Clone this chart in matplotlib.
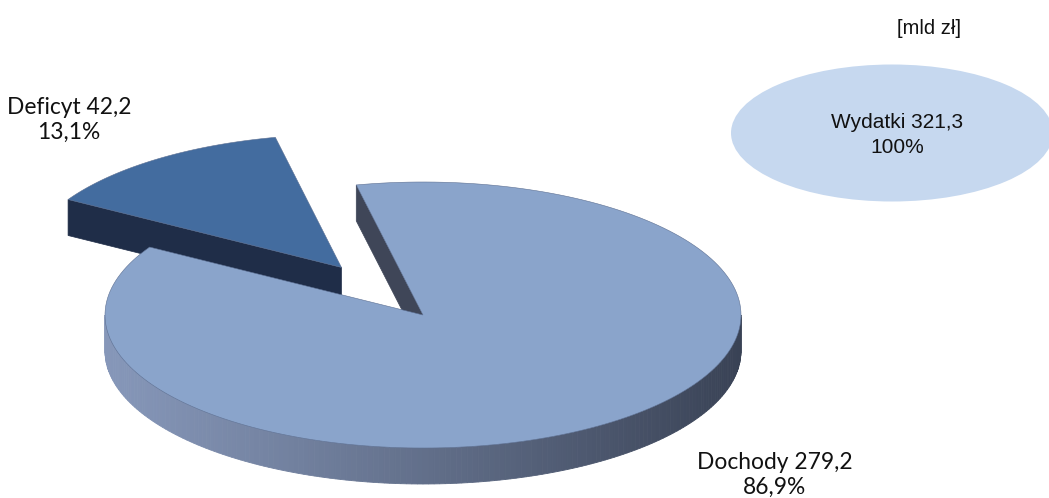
import numpy as np
import matplotlib.pyplot as plt
from matplotlib.patches import Polygon, Ellipse
from matplotlib.colors import to_rgb

# budget data [mld zł]
total_label = 'Wydatki'
total_value = 321.3
slice_labels = ['Deficyt', 'Dochody']
slice_values = [42.2, 279.2]
explode = [0.44, 0.0]

top_colors = ['#436c9f', '#8aa4cb']
side_colors = ['#1f2d48', '#3f4658']
wall_left, wall_right = '#8697b9', '#394255'

# pie geometry in pixels
cx, cy = 423, 315
rx, ry = 318, 133
depth = 36
start_angle = 102.0


def fmt(v):
    return f'{v:.1f}'.replace('.', ',')


def pt(ox, oy, ang, r=1.0, dz=0.0):
    a = np.radians(ang)
    return ox + r * rx * np.cos(a), oy - r * ry * np.sin(a) + dz


def arc(ox, oy, a0, a1, dz=0.0, n=200):
    t = np.linspace(a0, a1, n)
    x, y = pt(ox, oy, t, dz=dz)
    return np.column_stack([x, y])


fig = plt.figure(figsize=(10.49, 4.98), dpi=100)
ax = fig.add_axes([0, 0, 1, 1])
ax.set_xlim(0, 1049)
ax.set_ylim(498, 0)
ax.axis('off')

fracs = np.array(slice_values) / total_value
angles = start_angle + np.concatenate([[0], np.cumsum(fracs) * 360])

for i, (lab, val) in enumerate(zip(slice_labels, slice_values)):
    a0, a1 = angles[i], angles[i + 1]
    mid = np.radians((a0 + a1) / 2)
    ox = cx + explode[i] * rx * np.cos(mid)
    oy = cy - explode[i] * ry * np.sin(mid)

    # outer wall, front half only, shaded left to right
    lo, hi = max(a0, 180), min(a1, 360)
    if hi > lo:
        t = np.linspace(lo, hi, 181)
        cl, cr = np.array(to_rgb(wall_left)), np.array(to_rgb(wall_right))
        for k in range(len(t) - 1):
            x0, y0 = pt(ox, oy, t[k])
            x1, y1 = pt(ox, oy, t[k + 1])
            f = ((x0 + x1) / 2 - (ox - rx)) / (2 * rx)
            col = cl + (cr - cl) * np.clip(f, 0, 1) ** 1.1
            ax.add_patch(Polygon([(x0, y0), (x1, y1), (x1, y1 + depth), (x0, y0 + depth)],
                                 closed=True, fc=col, ec=col, lw=0.6))

    # radial faces that turn towards the viewer
    for edge, normal in ((a0, a0 - 90), (a1, a1 + 90)):
        if np.sin(np.radians(normal)) < 0:
            ex, ey = pt(ox, oy, edge)
            ax.add_patch(Polygon([(ox, oy), (ex, ey), (ex, ey + depth), (ox, oy + depth)],
                                 closed=True, fc=side_colors[i], ec=side_colors[i], lw=0.5))

    # top surface
    top = np.vstack([[ox, oy], arc(ox, oy, a0, a1), [ox, oy]])
    ax.add_patch(Polygon(top, closed=True, fc=top_colors[i], ec='#5d7093', lw=0.4))

# total as a flat ellipse
ax.add_patch(Ellipse((892, 133), 322, 137, fc='#c6d8ef', ec='none'))
ax.text(897, 135, f'{total_label} {fmt(total_value)}\n100%', ha='center', va='center',
        fontsize=15, family='Liberation Sans', linespacing=1.45, color='#111111')
ax.text(929, 28, '[mld zł]', ha='center', va='center', fontsize=14.5,
        family='Liberation Sans', color='#111111')

label_pos = [(69, 120), (775, 475)]
for (x, y), lab, val in zip(label_pos, slice_labels, slice_values):
    ax.text(x, y, f'{lab} {fmt(val)}\n{fmt(val / total_value * 100)}%', ha='center',
            va='center', fontsize=16.4, family='Lato', linespacing=1.25, color='#111111')

fig.savefig('out.png', dpi=100)
